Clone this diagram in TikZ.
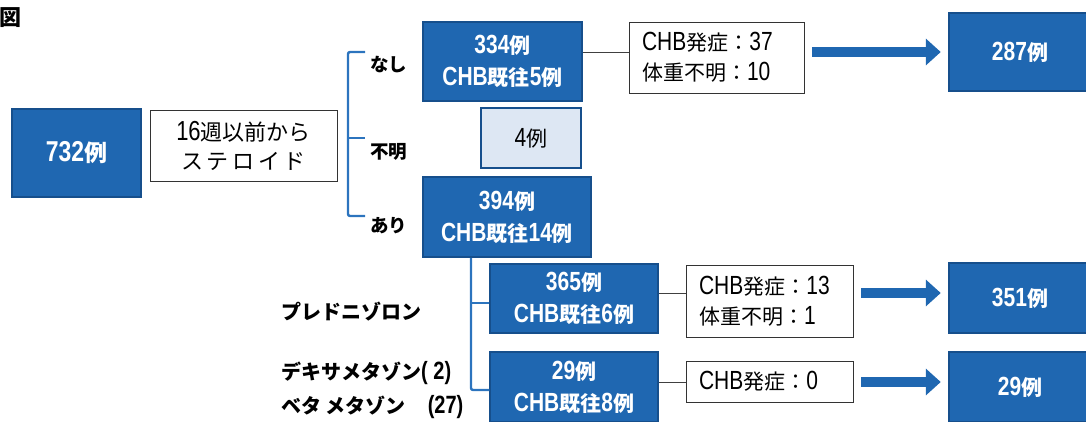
\documentclass[tikz,border=0pt]{standalone}
\usepackage{fontspec}
\setmainfont{Noto Sans CJK JP}
\newfontfamily\latfont{Liberation Sans}[FakeStretch=0.8, Scale=1.25]
\newcommand\Lt[1]{{\latfont #1}}
\usetikzlibrary{arrows.meta}
\definecolor{bfill}{HTML}{1F67B1}
\definecolor{bline}{HTML}{164F8C}
\definecolor{lfill}{HTML}{DDE7F3}
\definecolor{brk}{HTML}{2C74BE}
\tikzset{
  bluebox/.style={draw=bline, line width=1.5pt, fill=bfill, text=white, font=\fontsize{21}{32}\selectfont\bfseries, align=center, inner sep=0pt},
  whitebox/.style={draw=black!80, line width=1pt, fill=white, text=black, inner ysep=0pt, inner xsep=13pt, align=left, font=\fontsize{21}{30}\selectfont},
  lightbox/.style={draw=bline, line width=1.5pt, fill=lfill, text=black, font=\fontsize{21}{24}\selectfont, inner sep=0pt},
  lbl/.style={font=\fontsize{18.5}{22}\selectfont\bfseries, anchor=west, inner sep=0pt},
  drug/.style={font=\fontsize{20}{24}\selectfont\bfseries, anchor=west, inner sep=0pt},
  brline/.style={draw=brk, line width=2.4pt, rounded corners=2pt},
  thin/.style={draw=black!75, line width=0.9pt},
  bigarrow/.style={draw=bfill, line width=10pt, -{Triangle[length=15pt,width=26pt]}, shorten <=7.5pt, shorten >=7.5pt},
}
\begin{document}
\begin{tikzpicture}[x=1pt,y=-1pt]
\useasboundingbox (0,0) rectangle (1086,421);
\clip (0,0) rectangle (1086,421);
\node[anchor=west, inner sep=0pt, font=\fontsize{22}{24}\selectfont\bfseries] (fig) at (-1,18) {図};
\node[bluebox, minimum width=129pt, minimum height=88pt, font=\fontsize{23}{27}\selectfont\bfseries] (n732) at (76.5,153) {\Lt{732}例};
\node[draw=black!80, line width=1pt, fill=white, inner sep=0pt, minimum width=187pt, minimum height=71pt, align=center, font=\fontsize{22}{29}\selectfont] (ster) at (243.5,145.5) {\Lt{16}週以前から\\ス\,テ\,ロ\,イ\,ド};
% bracket
\coordinate (bt) at (365,52);
\coordinate (bm) at (365,138);
\coordinate (bb) at (365,216);
\draw[brline] (bt) -- (348,52) -- (348,216) -- (bb);
\draw[brline] (348,138) -- (bm);
\node[lbl] (nashi) at (370,65) {なし};
\node[lbl] (fumei) at (370,152) {不明};
\node[lbl] (ari) at (370,226) {あり};
% top row
\node[bluebox, minimum width=159pt, minimum height=79pt] (n334) at (502.5,61.5) {\Lt{334}例\\\Lt{CHB}既往\Lt{5}例};
\node[whitebox, text width=149pt, minimum height=71pt] (c1) at (716.5,57.5) {\Lt{CHB}発症：\Lt{37}\\体重不明：\Lt{10}};
\node[bluebox, minimum width=142pt, minimum height=78pt] (n287) at (1020,52) {\Lt{287}例};
\draw[thin] (n334.east |- 0,52) -- (c1.west |- 0,52);
\draw[bigarrow] (c1.east |- 0,52) -- (n287.west |- 0,52);
% unknown
\node[lightbox, minimum width=100pt, minimum height=60pt] (n4) at (531,138) {\Lt{4}例};
% ari
\node[bluebox, minimum width=168pt, minimum height=80pt] (n394) at (507,217) {\Lt{394}例\\\Lt{CHB}既往\Lt{14}例};
\node[bluebox, minimum width=168pt, minimum height=69pt] (n365) at (574,298.5) {\Lt{365}例\\\Lt{CHB}既往\Lt{6}例};
\node[bluebox, minimum width=168pt, minimum height=70pt] (n29) at (574,387) {\Lt{29}例\\\Lt{CHB}既往\Lt{8}例};
\draw[brline] (n394.south -| 471,0) -- (471,390) -- (n29.west |- 0,390);
\draw[brline] (471,303) -- (n365.west |- 0,303);
\node[whitebox, text width=141pt, minimum height=72pt] (c2) at (769.5,301) {\Lt{CHB}発症：\Lt{13}\\体重不明：\Lt{1}};
\node[whitebox, text width=141pt, minimum height=41pt] (c3) at (769.5,381.5) {\Lt{CHB}発症：\Lt{0}};
\node[bluebox, minimum width=142pt, minimum height=70pt] (n351) at (1020,298) {\Lt{351}例};
\node[bluebox, minimum width=142pt, minimum height=70pt] (n29b) at (1020,387) {\Lt{29}例};
\draw[thin] (n365.east |- 0,293) -- (c2.west |- 0,293);
\draw[thin] (n29.east |- 0,382) -- (c3.west |- 0,382);
\draw[bigarrow] (c2.east |- 0,293) -- (n351.west |- 0,293);
\draw[bigarrow] (c3.east |- 0,382) -- (n29b.west |- 0,382);
% drug labels
\node[drug] (pred) at (281,312) {プレドニゾロン};
\node[drug] (dexa) at (281,373) {デキサメタゾン\Lt{( 2)}};
\node[drug] (beta) at (281,407) {ベタ メタゾン\hspace{1.1em}\Lt{(27)}};
\end{tikzpicture}
\end{document}
